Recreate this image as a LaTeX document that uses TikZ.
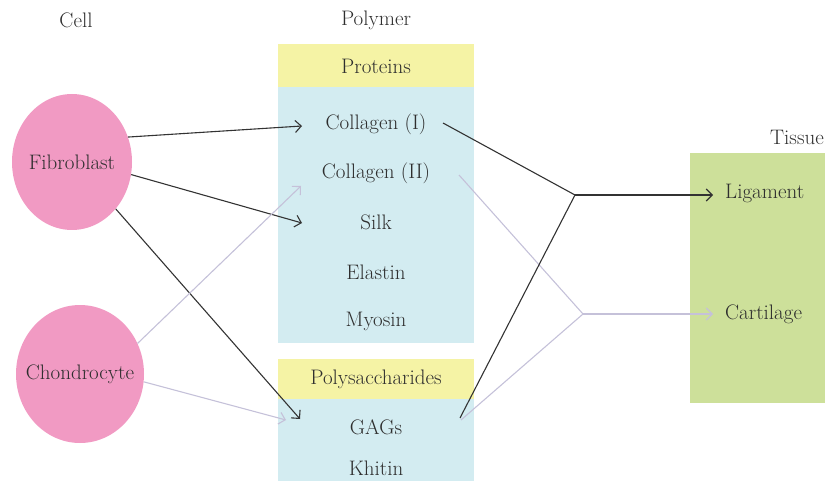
\documentclass[tikz,border=0pt]{standalone}
\usepackage{fontspec}
\usetikzlibrary{shapes.geometric,arrows.meta}
\definecolor{pinkc}{HTML}{F19AC3}
\definecolor{bluec}{HTML}{D3ECF1}
\definecolor{yelc}{HTML}{F5F3A5}
\definecolor{greenc}{HTML}{CDE09A}
\definecolor{darkl}{HTML}{333333}
\definecolor{lavl}{HTML}{C5C1D9}
\definecolor{txt}{HTML}{2E2E2E}
\tikzset{
  lbl/.style={font=\fontsize{21}{24}\selectfont, text=txt, inner sep=0pt},
  cellnode/.style={ellipse, fill=pinkc, draw=none, inner sep=0pt},
  darkarrow/.style={draw=darkl, line width=1.1pt, -{Straight Barb[length=6pt,width=12pt]}},
  lavarrow/.style={draw=lavl, line width=1.1pt, -{Straight Barb[length=6pt,width=12pt]}},
  darkline/.style={draw=darkl, line width=1.1pt},
  lavline/.style={draw=lavl, line width=1.1pt},
}
\begin{document}
\begin{tikzpicture}[x=1pt,y=-1pt]
\useasboundingbox (0,0) rectangle (825,481);
% boxes
\fill[yelc] (278,44) rectangle (474,87);
\fill[bluec] (278,87) rectangle (474,343);
\fill[yelc] (278,359) rectangle (474,399);
\fill[bluec] (278,399) rectangle (474,481);
\fill[greenc] (690,153) rectangle (825,403);
% headers
\node[lbl] (hcell) at (76,20) {Cell};
\node[lbl] (hpoly) at (376,20) {Polymer};
\node[lbl] (htis) at (797,137) {Tissue};
% cells
\node[cellnode, minimum width=120pt, minimum height=136pt] (fib) at (72,162) {};
\node[lbl] at (fib.center) {Fibroblast};
\node[cellnode, minimum width=128pt, minimum height=138pt] (cho) at (80,374) {};
\node[lbl] at (cho.center) {Chondrocyte};
% polymers
\node[lbl] (prot) at (376,66) {Proteins};
\node[lbl] (c1) at (376,124) {Collagen (I)};
\node[lbl] (c2) at (376,173) {Collagen (II)};
\node[lbl] (silk) at (376,222) {Silk};
\node[lbl] (elas) at (376,272) {Elastin};
\node[lbl] (myo) at (376,321) {Myosin};
\node[lbl] (polys) at (376,379) {Polysaccharides};
\node[lbl] (gag) at (376,427) {GAGs};
\node[lbl] (khi) at (376,468) {Khitin};
% tissues
\node[lbl, anchor=west] (lig) at (725,193) {Ligament};
\node[lbl, anchor=west] (car) at (725,314) {Cartilage};
% connector end points
\coordinate (tc1) at (302,126);
\coordinate (tc2) at (301,186);
\coordinate (tsilk) at (302,223);
\coordinate (tgag) at (300,419);
\coordinate (tgag2) at (286,420);
\coordinate (sc1) at (443,123);
\coordinate (sc2) at (459,175);
\coordinate (sgag) at (460,418);
\coordinate (sgag2) at (461,420);
\coordinate (j1) at (575,195);
\coordinate (j2) at (583,314);
\coordinate (tlig) at (713,195);
\coordinate (tcar) at (713,314);
% cell -> polymer
\draw[darkarrow] (fib.24) -- (tc1);
\draw[darkarrow] (fib.-12) -- (tsilk);
\draw[darkarrow] (fib.-47) -- (tgag);
\draw[lavarrow] (cho.28) -- (tc2);
\draw[lavarrow] (cho.-7) -- (tgag2);
% polymer -> tissue
\draw[lavline] (sc2) -- (j2);
\draw[lavline] (sgag2) -- (j2);
\draw[lavarrow] (j2) -- (tcar);
\draw[darkline] (sc1) -- (j1);
\draw[darkline] (sgag) -- (j1);
\draw[darkarrow] (j1) -- (tlig);
\end{tikzpicture}
\end{document}
